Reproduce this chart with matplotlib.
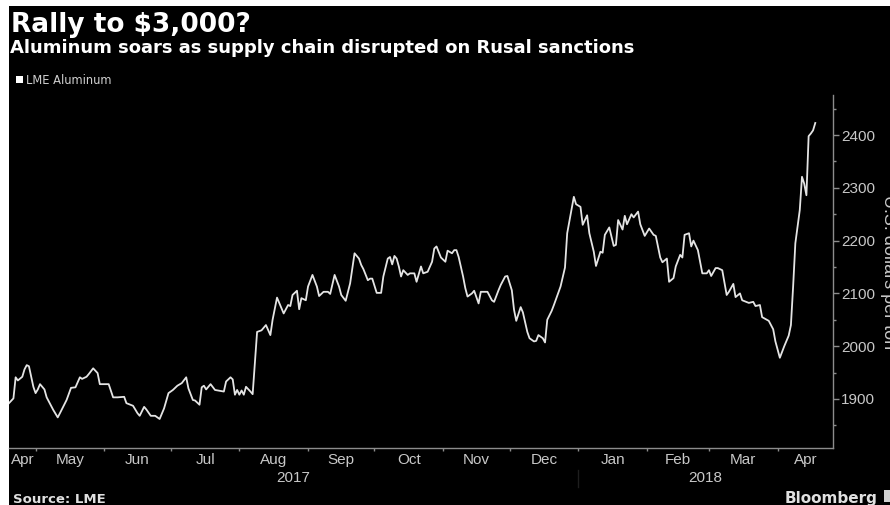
import matplotlib
matplotlib.use("Agg")
import matplotlib.pyplot as plt
import pandas as pd
from matplotlib.patches import Rectangle, Patch
from matplotlib.ticker import FixedLocator, MultipleLocator, NullFormatter

# LME aluminum price, U.S. dollars per ton
dates = [
    "2017-04-19", "2017-04-21", "2017-04-22", "2017-04-23", "2017-04-25", "2017-04-26",
    "2017-04-27", "2017-04-28", "2017-04-30", "2017-05-01", "2017-05-02", "2017-05-03",
    "2017-05-05", "2017-05-06", "2017-05-09", "2017-05-11", "2017-05-12", "2017-05-15",
    "2017-05-17", "2017-05-19", "2017-05-21", "2017-05-22", "2017-05-24", "2017-05-25",
    "2017-05-27", "2017-05-29", "2017-05-30", "2017-06-01", "2017-06-03", "2017-06-05",
    "2017-06-07", "2017-06-10", "2017-06-11", "2017-06-14", "2017-06-16", "2017-06-17",
    "2017-06-19", "2017-06-20", "2017-06-22", "2017-06-24", "2017-06-26", "2017-06-28",
    "2017-06-30", "2017-07-02", "2017-07-04", "2017-07-06", "2017-07-08", "2017-07-09",
    "2017-07-11", "2017-07-12", "2017-07-14", "2017-07-15", "2017-07-16", "2017-07-17",
    "2017-07-19", "2017-07-21", "2017-07-25", "2017-07-26", "2017-07-28", "2017-07-29",
    "2017-07-30", "2017-07-31", "2017-08-01", "2017-08-02", "2017-08-03", "2017-08-04",
    "2017-08-06", "2017-08-07", "2017-08-09", "2017-08-11", "2017-08-13", "2017-08-15",
    "2017-08-16", "2017-08-18", "2017-08-20", "2017-08-21", "2017-08-23", "2017-08-24",
    "2017-08-25", "2017-08-27", "2017-08-28", "2017-08-29", "2017-08-31", "2017-09-01",
    "2017-09-03", "2017-09-05", "2017-09-06", "2017-09-08", "2017-09-10", "2017-09-11",
    "2017-09-13", "2017-09-15", "2017-09-16", "2017-09-18", "2017-09-20", "2017-09-22",
    "2017-09-24", "2017-09-25", "2017-09-26", "2017-09-28", "2017-09-29", "2017-09-30",
    "2017-10-02", "2017-10-04", "2017-10-05", "2017-10-07", "2017-10-08", "2017-10-09",
    "2017-10-10", "2017-10-11", "2017-10-12", "2017-10-13", "2017-10-14", "2017-10-16",
    "2017-10-17", "2017-10-19", "2017-10-20", "2017-10-22", "2017-10-23", "2017-10-25",
    "2017-10-27", "2017-10-28", "2017-10-29", "2017-10-31", "2017-11-02", "2017-11-03",
    "2017-11-05", "2017-11-06", "2017-11-07", "2017-11-08", "2017-11-10", "2017-11-11",
    "2017-11-12", "2017-11-14", "2017-11-15", "2017-11-17", "2017-11-18", "2017-11-21",
    "2017-11-23", "2017-11-24", "2017-11-26", "2017-11-27", "2017-11-29", "2017-11-30",
    "2017-12-02", "2017-12-03", "2017-12-04", "2017-12-06", "2017-12-07", "2017-12-09",
    "2017-12-10", "2017-12-12", "2017-12-13", "2017-12-14", "2017-12-16", "2017-12-17",
    "2017-12-18", "2017-12-20", "2017-12-21", "2017-12-24", "2017-12-26", "2017-12-27",
    "2017-12-30", "2017-12-31", "2018-01-02", "2018-01-03", "2018-01-05", "2018-01-06",
    "2018-01-08", "2018-01-09", "2018-01-11", "2018-01-12", "2018-01-13", "2018-01-15",
    "2018-01-17", "2018-01-18", "2018-01-19", "2018-01-21", "2018-01-22", "2018-01-23",
    "2018-01-25", "2018-01-26", "2018-01-28", "2018-01-29", "2018-01-31", "2018-02-02",
    "2018-02-04", "2018-02-05", "2018-02-07", "2018-02-08", "2018-02-10", "2018-02-11",
    "2018-02-13", "2018-02-14", "2018-02-16", "2018-02-17", "2018-02-18", "2018-02-20",
    "2018-02-21", "2018-02-22", "2018-02-24", "2018-02-26", "2018-02-28", "2018-03-01",
    "2018-03-02", "2018-03-04", "2018-03-05", "2018-03-07", "2018-03-09", "2018-03-10",
    "2018-03-12", "2018-03-13", "2018-03-15", "2018-03-16", "2018-03-19", "2018-03-21",
    "2018-03-22", "2018-03-24", "2018-03-25", "2018-03-28", "2018-03-30", "2018-03-31",
    "2018-04-02", "2018-04-04", "2018-04-06", "2018-04-07", "2018-04-08", "2018-04-09",
    "2018-04-10", "2018-04-11", "2018-04-12", "2018-04-13", "2018-04-14", "2018-04-15",
    "2018-04-16", "2018-04-17", "2018-04-18",
]
prices = [
    1892, 1901, 1941, 1935, 1942, 1956,
    1964, 1962, 1923, 1911, 1918, 1928,
    1918, 1903, 1879, 1865, 1873, 1898,
    1921, 1922, 1941, 1938, 1942, 1947,
    1958, 1949, 1928, 1928, 1928, 1903,
    1903, 1904, 1892, 1887, 1873, 1868,
    1885, 1880, 1868, 1868, 1862, 1882,
    1911, 1917, 1925, 1930, 1941, 1920,
    1898, 1897, 1889, 1922, 1925, 1918,
    1928, 1917, 1914, 1933, 1941, 1937,
    1908, 1917, 1908, 1916, 1908, 1923,
    1914, 1909, 2027, 2030, 2040, 2021,
    2050, 2092, 2072, 2062, 2078, 2076,
    2097, 2105, 2070, 2091, 2087, 2113,
    2135, 2113, 2095, 2103, 2103, 2099,
    2135, 2113, 2097, 2086, 2119, 2176,
    2166, 2154, 2146, 2125, 2128, 2128,
    2101, 2101, 2132, 2166, 2169, 2155,
    2171, 2166, 2151, 2132, 2144, 2135,
    2138, 2138, 2122, 2151, 2138, 2141,
    2160, 2185, 2189, 2168, 2160, 2181,
    2176, 2182, 2182, 2169, 2132, 2110,
    2094, 2100, 2105, 2081, 2103, 2103,
    2087, 2084, 2106, 2116, 2132, 2133,
    2106, 2069, 2048, 2074, 2064, 2027,
    2015, 2009, 2010, 2021, 2015, 2007,
    2050, 2067, 2078, 2113, 2149, 2214,
    2283, 2269, 2264, 2230, 2248, 2214,
    2179, 2152, 2179, 2177, 2211, 2225,
    2190, 2192, 2239, 2221, 2247, 2231,
    2250, 2244, 2255, 2231, 2209, 2223,
    2211, 2209, 2168, 2159, 2166, 2122,
    2129, 2151, 2173, 2168, 2211, 2214,
    2189, 2200, 2182, 2138, 2138, 2144,
    2133, 2148, 2148, 2144, 2097, 2103,
    2118, 2093, 2100, 2087, 2082, 2084,
    2076, 2078, 2055, 2048, 2032, 2009,
    1978, 2000, 2020, 2040, 2113, 2195,
    2227, 2258, 2321, 2308, 2286, 2398,
    2403, 2409, 2423,
]

series_name = "LME Aluminum"
month_labels = ["Apr", "May", "Jun", "Jul", "Aug", "Sep", "Oct",
                "Nov", "Dec", "Jan", "Feb", "Mar", "Apr"]
first_month = "2017-04-01"
year_labels = ["2017", "2018"]
y_ticks = [1900, 2000, 2100, 2200, 2300, 2400]
x_range = ("2017-04-19", "2018-04-26")
y_range = (1807, 2476)

title = "Rally to \\$3,000?"
subtitle = "Aluminum soars as supply chain disrupted on Rusal sanctions"
y_label = "U.S. dollars per ton"
source = "Source: LME"
brand = "Bloomberg"

W, H = 890, 505
AXIS_GREY = "#8c8c8c"
TEXT_GREY = "#c8c8c8"
TICK_FONT = ["Liberation Sans", "DejaVu Sans"]


def fx(px):
    return px / W


def fy(py):
    return 1 - py / H


fig = plt.figure(figsize=(W / 100, H / 100), dpi=100, facecolor="white")
# black panel with a thin light margin on the top and left edges
fig.add_artist(Rectangle((fx(9), 0), 1, fy(6), transform=fig.transFigure,
                         facecolor="black", edgecolor="none", zorder=-5))

ax = fig.add_axes([fx(9), fy(448), fx(833 - 9), (448 - 95) / H])
ax.set_facecolor("none")

x = pd.to_datetime(dates)
ax.plot(x, prices, color="#e4e4e4", lw=1.3, label=series_name,
        solid_joinstyle="round")

xmin, xmax = pd.Timestamp(x_range[0]), pd.Timestamp(x_range[1])
ax.set_xlim(xmin, xmax)
ax.set_ylim(*y_range)

for side in ("left", "top"):
    ax.spines[side].set_visible(False)
for side in ("right", "bottom"):
    ax.spines[side].set_color(AXIS_GREY)
    ax.spines[side].set_linewidth(1.0)

# y axis on the right
ax.yaxis.tick_right()
ax.yaxis.set_major_locator(FixedLocator(y_ticks))
ax.yaxis.set_minor_locator(MultipleLocator(50))
ax.tick_params(axis="y", which="major", length=4, width=1, color=AXIS_GREY,
               labelcolor=TEXT_GREY, labelsize=11, pad=2)
ax.tick_params(axis="y", which="minor", length=2.5, width=1, color=AXIS_GREY)
for lab in ax.get_yticklabels():
    lab.set_family(TICK_FONT)

# x axis: tick marks at month boundaries, labels centred on each visible month
month_starts = pd.date_range(first_month, periods=len(month_labels) + 1, freq="MS")
ax.xaxis.set_major_locator(FixedLocator(
    [matplotlib.dates.date2num(d) for d in month_starts[1:-1]]))
ax.xaxis.set_major_formatter(NullFormatter())
mids = []
for a, b in zip(month_starts[:-1], month_starts[1:]):
    lo, hi = max(a, xmin), min(b, xmax)
    mids.append(matplotlib.dates.date2num(lo + (hi - lo) / 2))
ax.xaxis.set_minor_locator(FixedLocator(mids))
ax.set_xticks(mids, month_labels, minor=True)
ax.tick_params(axis="x", which="major", length=2.5, width=1, color=AXIS_GREY,
               direction="out")
ax.tick_params(axis="x", which="minor", length=0, labelcolor=TEXT_GREY,
               labelsize=11, pad=3.5)
for lab in ax.get_xticklabels(minor=True):
    lab.set_family(TICK_FONT)

# year labels centred under each year's span, with a faint divider between
xt = ax.get_xaxis_transform()
for i, yr in enumerate(year_labels):
    lo = max(pd.Timestamp(f"{yr}-01-01"), xmin)
    hi = min(pd.Timestamp(f"{int(yr) + 1}-01-01"), xmax)
    ax.text(lo + (hi - lo) / 2, -0.085, yr, transform=xt, ha="center",
            va="center", fontsize=11, color=TEXT_GREY, family=TICK_FONT)
    if i > 0:
        ax.plot([lo, lo], [-0.062, -0.11], transform=xt, color="#1e1e1e",
                lw=1, clip_on=False)

# unit label runs down the right edge of the panel
fig.text(fx(879.5), fy(272), y_label, rotation=270, ha="left", va="center",
         fontsize=13, color=TEXT_GREY, family=TICK_FONT)

# headline and subtitle
fig.text(fx(11), fy(32), title, fontsize=19, fontweight="bold", color="white",
         va="baseline")
fig.text(fx(10), fy(53), subtitle, fontsize=13, fontweight="bold",
         color="white", va="baseline")

fig.legend(handles=[Patch(facecolor="white", edgecolor="none", label=series_name)],
           loc="center left", bbox_to_anchor=(fx(16), fy(80)), frameon=False,
           fontsize=8.3, labelcolor="#d0d0d0", handlelength=0.6,
           handleheight=0.6, handletextpad=0.3, borderpad=0, borderaxespad=0)

# footer
fig.text(fx(13), fy(503), source, fontsize=9.5, fontweight="bold",
         color="#e0e0e0", va="baseline")
fig.text(fx(878), fy(503), brand, fontsize=11, fontweight="bold",
         color="#e0e0e0", va="baseline", ha="right")
fig.add_artist(Rectangle((fx(884), fy(502)), fx(10), 12 / H,
                         transform=fig.transFigure, facecolor="#d0d0d0",
                         edgecolor="none"))

fig.savefig("out.png", dpi=100, facecolor=fig.get_facecolor())
